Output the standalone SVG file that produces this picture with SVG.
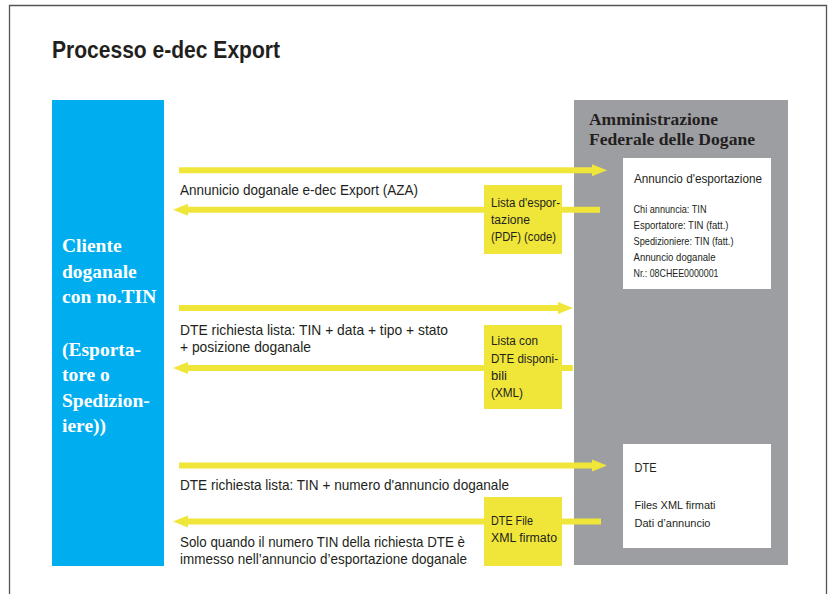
<svg xmlns="http://www.w3.org/2000/svg" width="835" height="594" viewBox="0 0 835 594">
<defs>
<style>
.t{font-family:"Liberation Sans",Arial,sans-serif;fill:#231F20}
.s{font-family:"Liberation Serif","Times New Roman",serif;font-weight:bold}
.w{fill:#fff}
.conn{stroke:#F0E639;stroke-width:6;fill:none}
.lbl{fill:#F0E639}
</style>
<marker id="ah" markerUnits="userSpaceOnUse" markerWidth="15" markerHeight="12" refX="0" refY="6" orient="auto" overflow="visible">
<path d="M0,0 L15,6 L0,12 Z" fill="#F0E639"/>
</marker>
</defs>
<rect width="835" height="594" fill="#fff"/>
<path d="M9.5,594 V5.5 H826.5 V594" fill="none" stroke="#555" stroke-width="1.3"/>
<text class="t" x="52" y="58" font-size="23" font-weight="bold" textLength="228" lengthAdjust="spacingAndGlyphs">Processo e-dec Export</text>

<g id="cliente">
<rect x="52" y="100" width="112" height="466" fill="#00AEEF"/>
<text class="s w" font-size="19.5">
<tspan x="62" y="252">Cliente</tspan>
<tspan x="62" y="277.5">doganale</tspan>
<tspan x="62" y="303">con no.TIN</tspan>
<tspan x="62" y="355.5">(Esporta-</tspan>
<tspan x="62" y="381">tore o</tspan>
<tspan x="62" y="406.5">Spedizion-</tspan>
<tspan x="62" y="432">iere))</tspan>
</text>
</g>

<g id="amministrazione">
<rect x="574" y="100" width="214" height="465" fill="#9D9EA2"/>
<text class="s" fill="#231F20" font-size="17.5">
<tspan x="589" y="125" textLength="129" lengthAdjust="spacingAndGlyphs">Amministrazione</tspan>
<tspan x="589" y="145" textLength="166" lengthAdjust="spacingAndGlyphs">Federale delle Dogane</tspan>
</text>
</g>

<g id="annuncio">
<rect x="623" y="158" width="148" height="131" fill="#fff"/>
<text class="t" x="634" y="183" font-size="12.8" textLength="128" lengthAdjust="spacingAndGlyphs">Annuncio d'esportazione</text>
<g class="t" font-size="10.3">
<text x="633.5" y="213" textLength="73" lengthAdjust="spacingAndGlyphs">Chi annuncia: TIN</text>
<text x="633.5" y="229" textLength="95" lengthAdjust="spacingAndGlyphs">Esportatore: TIN (fatt.)</text>
<text x="633.5" y="245" textLength="100" lengthAdjust="spacingAndGlyphs">Spedizioniere: TIN (fatt.)</text>
<text x="633.5" y="261" textLength="82" lengthAdjust="spacingAndGlyphs">Annuncio doganale</text>
<text x="633.5" y="277" textLength="85" lengthAdjust="spacingAndGlyphs">Nr.: 08CHEE0000001</text>
</g>
</g>

<g id="dte">
<rect x="623" y="444" width="148" height="104" fill="#fff"/>
<text class="t" x="634.5" y="472" font-size="13" textLength="22" lengthAdjust="spacingAndGlyphs">DTE</text>
<text class="t" x="634.5" y="509" font-size="10.5" textLength="81" lengthAdjust="spacingAndGlyphs">Files XML firmati</text>
<text class="t" x="634.5" y="527" font-size="10.5" textLength="76" lengthAdjust="spacingAndGlyphs">Dati d’annuncio</text>
</g>

<g id="connectors">
<line class="conn" x1="179" y1="170.3" x2="592" y2="170.3" marker-end="url(#ah)"/>
<line class="conn" x1="600" y1="209.7" x2="188" y2="209.7" marker-end="url(#ah)"/>
<line class="conn" x1="179" y1="308" x2="558" y2="308" marker-end="url(#ah)"/>
<line class="conn" x1="573" y1="368" x2="188" y2="368" marker-end="url(#ah)"/>
<line class="conn" x1="179" y1="465.5" x2="592" y2="465.5" marker-end="url(#ah)"/>
<line class="conn" x1="601" y1="521.5" x2="188" y2="521.5" marker-end="url(#ah)"/>
</g>

<g id="connector-labels" class="t" font-size="14.3">
<text x="180" y="195" textLength="238" lengthAdjust="spacingAndGlyphs">Annunicio doganale e-dec Export (AZA)</text>
<text x="180" y="335" textLength="268" lengthAdjust="spacingAndGlyphs">DTE richiesta lista: TIN + data + tipo + stato</text>
<text x="180" y="352" textLength="131" lengthAdjust="spacingAndGlyphs">+ posizione doganale</text>
<text x="180" y="490" textLength="329" lengthAdjust="spacingAndGlyphs">DTE richiesta lista: TIN + numero d'annuncio doganale</text>
<text x="180" y="547" textLength="285" lengthAdjust="spacingAndGlyphs">Solo quando il numero TIN della richiesta DTE è</text>
<text x="180" y="564" textLength="287" lengthAdjust="spacingAndGlyphs">immesso nell’annuncio d’esportazione doganale</text>
</g>

<g id="lista-esportazione">
<rect class="lbl" x="484" y="185" width="78" height="69"/>
<g class="t" font-size="12">
<text x="491" y="207" textLength="69" lengthAdjust="spacingAndGlyphs">Lista d'espor-</text>
<text x="491" y="224" textLength="39" lengthAdjust="spacingAndGlyphs">tazione</text>
<text x="491" y="241" textLength="65" lengthAdjust="spacingAndGlyphs">(PDF) (code)</text>
</g>
</g>

<g id="lista-dte">
<rect class="lbl" x="484" y="325" width="78" height="84"/>
<g class="t" font-size="12">
<text x="491" y="345" textLength="47" lengthAdjust="spacingAndGlyphs">Lista con</text>
<text x="491" y="363" textLength="67" lengthAdjust="spacingAndGlyphs">DTE disponi-</text>
<text x="491" y="380" textLength="16" lengthAdjust="spacingAndGlyphs">bili</text>
<text x="491" y="397" textLength="32" lengthAdjust="spacingAndGlyphs">(XML)</text>
</g>
</g>

<g id="dte-file">
<rect class="lbl" x="484" y="497" width="78" height="69"/>
<g class="t" font-size="12">
<text x="491" y="525" textLength="42" lengthAdjust="spacingAndGlyphs">DTE File</text>
<text x="491" y="542" textLength="66" lengthAdjust="spacingAndGlyphs">XML firmato</text>
</g>
</g>
</svg>
